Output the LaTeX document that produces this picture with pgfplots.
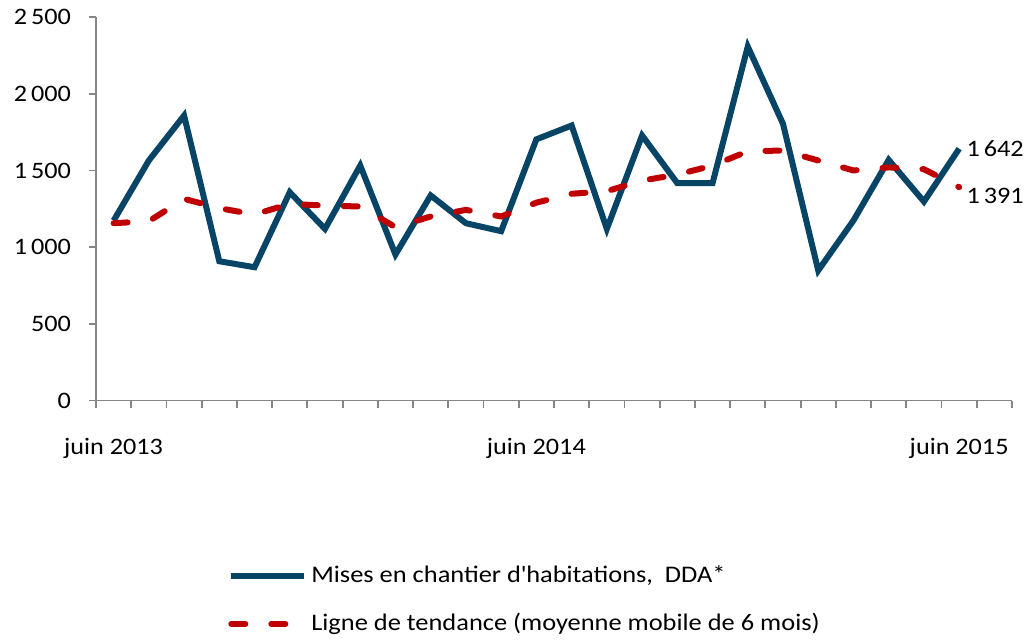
\documentclass[border=0pt]{standalone}
\usepackage{fontspec}
\setmainfont{Carlito}[FakeStretch=1.11]
\usepackage{pgfplots}
\pgfplotsset{compat=1.18}
\definecolor{serieblue}{RGB}{8,68,102}
\definecolor{trendred}{RGB}{192,0,0}
\definecolor{axisgray}{RGB}{134,134,134}
\begin{document}
\fontsize{11.6bp}{14bp}\selectfont
\begin{tikzpicture}
\begin{axis}[
  scale only axis,
  width=458bp, height=191.7bp,
  at={(0,0)}, anchor=south west,
  xmin=-0.5, xmax=25.5, ymin=0, ymax=2500,
  axis lines*=left,
  axis line style={axisgray, line width=0.9bp},
  tick style={axisgray, line width=0.9bp},
  tick align=outside,
  major tick length=3.5bp,
  minor tick length=3.5bp,
  ytick={0,500,1000,1500,2000,2500},
  xtick={0,12,24},
  xticklabels={juin 2013, juin 2014, juin 2015},
  major x tick style={draw=none},
  minor xtick={-0.5,0.5,...,25.5},
  /pgf/number format/assume math mode=true,
  /pgf/number format/1000 sep={\,},
  scaled y ticks=false,
  yticklabel style={anchor=east, xshift=-5bp},
  xticklabel style={anchor=north, yshift=-11.5bp},
  every tick label/.append style={font=\fontsize{11.8bp}{14bp}\selectfont, text=black},
  clip=false,
  legend style={at={(0.144,-0.42)}, anchor=north west, draw=none, fill=none,
    inner sep=0pt, row sep=9.5bp, font=\fontsize{11.9bp}{14.3bp}\selectfont,
    nodes={inner sep=2bp}},
  legend cell align=left,
  legend image code/.code={\draw[#1] (0bp,0bp) -- (36.5bp,0bp);},
]
\addplot[serieblue, line width=3bp, line join=miter] coordinates {
(0,1173) (1,1565) (2,1858) (3,908) (4,869) (5,1358) (6,1119) (7,1532)
(8,952) (9,1337) (10,1156) (11,1104) (12,1703) (13,1793) (14,1119)
(15,1728) (16,1417) (17,1417) (18,2308) (19,1804) (20,848) (21,1174)
(22,1569) (23,1297) (24,1642)};
\addlegendentry{Mises en chantier d\textquotesingle habitations,\ \ DDA*}
\addplot[trendred, line width=3bp, line cap=round, dash pattern=on 7bp off 13bp] coordinates {
(0,1156) (1,1169) (2,1315) (3,1254) (4,1213) (5,1282) (6,1271) (7,1265)
(8,1130) (9,1200) (10,1243) (11,1200) (12,1290) (13,1348) (14,1365)
(15,1434) (16,1473) (17,1532) (18,1625) (19,1630) (20,1565) (21,1500)
(22,1520) (23,1508) (24,1391)};
\addlegendentry{Ligne de tendance (moyenne mobile de 6 mois)}
\node[anchor=west, inner sep=3.5bp, font=\fontsize{11.8bp}{14bp}\selectfont] at (axis cs:24,1642) {1\,642};
\node[anchor=west, inner sep=3.5bp, font=\fontsize{11.8bp}{14bp}\selectfont] at (axis cs:24,1335) {1\,391};
\end{axis}
\pgfresetboundingbox
\path[use as bounding box] (-48bp,-120.25bp) rectangle (467.5bp,200.25bp);
\end{tikzpicture}
\end{document}
